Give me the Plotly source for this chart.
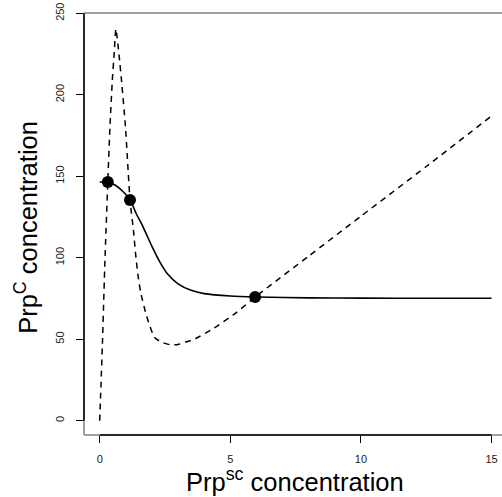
import plotly.graph_objects as go

# Solid curve (Prp^C nullcline-like response)
solid_x = [0, 0.3, 0.6, 0.9, 1.16, 1.4, 1.6, 1.8, 2.0, 2.3, 2.6, 3.0, 3.5, 4.0, 5.0, 6.0, 8.0, 10, 12.5, 15]
solid_y = [146.5, 146.3, 144.5, 140.5, 135.5, 127, 121, 114, 107, 97.5, 90, 84, 80, 78, 76.5, 75.9, 75.4, 75.2, 75.1, 75.1]

# Dashed curve
dash_x = [0, 0.1, 0.2, 0.31, 0.39, 0.48, 0.55, 0.62, 0.74, 0.84, 0.99, 1.16, 1.29, 1.37, 1.46, 1.57,
          1.8, 2.1, 2.4, 2.7, 3.0, 3.3, 3.6, 4.35, 5.24, 5.95, 8, 10, 12.5, 15]
dash_y = [0, 45, 98, 146.5, 179.5, 208, 224.5, 240.5, 224.5, 208, 179.5, 135.5, 117, 103, 90, 78.5,
          64, 51, 48, 46.6, 46.8, 48.3, 49.8, 56.5, 66.5, 75.9, 101, 125.5, 156, 187]

# Intersection points
pts_x = [0.31, 1.16, 5.95]
pts_y = [146.5, 135.5, 75.9]

x_ticks = [0, 5, 10, 15]
y_ticks = [0, 50, 100, 150, 200, 250]

fig = go.Figure()
fig.add_trace(go.Scatter(x=dash_x, y=dash_y, mode="lines",
                         line=dict(color="black", width=1.5, dash="6px,5px", shape="spline", smoothing=0.5),
                         hoverinfo="skip", showlegend=False))
fig.add_trace(go.Scatter(x=solid_x, y=solid_y, mode="lines",
                         line=dict(color="black", width=1.6, shape="spline", smoothing=0.8),
                         hoverinfo="skip", showlegend=False))
fig.add_trace(go.Scatter(x=pts_x, y=pts_y, mode="markers",
                         marker=dict(color="black", size=12),
                         hoverinfo="skip", showlegend=False))

tickfont = dict(family="Liberation Sans, Arial, sans-serif", size=11, color="#222")

fig.update_layout(
    width=502, height=497,
    margin=dict(l=84, r=0, t=13, b=62, autoexpand=False),
    paper_bgcolor="white", plot_bgcolor="white",
    xaxis=dict(range=[-0.601, 15.40], tickvals=x_ticks, ticktext=[str(v) for v in x_ticks],
               ticks="outside", ticklen=7, tickcolor="black", tickwidth=1, automargin=False,
               showgrid=False, zeroline=False, showline=False, tickfont=tickfont,
               ticklabelstandoff=7),
    yaxis=dict(range=[-8.78, 250.2], tickvals=y_ticks, ticktext=[str(v) for v in y_ticks],
               ticks="outside", ticklen=7, tickcolor="black", tickwidth=1, tickangle=-90, automargin=False,
               showgrid=False, zeroline=False, showline=False, tickfont=tickfont,
               ticklabelstandoff=8),
    shapes=[
        dict(type="line", xref="paper", yref="paper", x0=0, x1=1, y0=1, y1=1, line=dict(color="#808080", width=1.5)),
        dict(type="line", xref="paper", yref="paper", x0=0, x1=1, y0=0, y1=0, line=dict(color="#808080", width=1.5)),
        dict(type="line", xref="paper", yref="paper", x0=0, x1=0, y0=0, y1=1, line=dict(color="#808080", width=1.5)),
        dict(type="line", xref="x", yref="paper", x0=0, x1=15, y0=0, y1=0, line=dict(color="black", width=1.5)),
        dict(type="line", xref="paper", yref="y", x0=0, x1=0, y0=0, y1=250, line=dict(color="black", width=1.5)),
    ],
    annotations=[
        dict(text="Prp<sup>sc</sup> concentration", xref="paper", yref="paper", x=0.505, y=-0.064,
             xanchor="center", yanchor="top", showarrow=False,
             font=dict(family="Liberation Sans, Arial, sans-serif", size=25.5, color="black")),
        dict(text="Prp<sup>C</sup> concentration", xref="paper", yref="paper", x=-0.139, y=0.493,
             xanchor="center", yanchor="middle", textangle=-90, showarrow=False,
             font=dict(family="Liberation Sans, Arial, sans-serif", size=25.5, color="black")),
    ],
)

fig.write_html("out.html", post_script="document.body.style.margin='0';",
               config={"displayModeBar": False})
